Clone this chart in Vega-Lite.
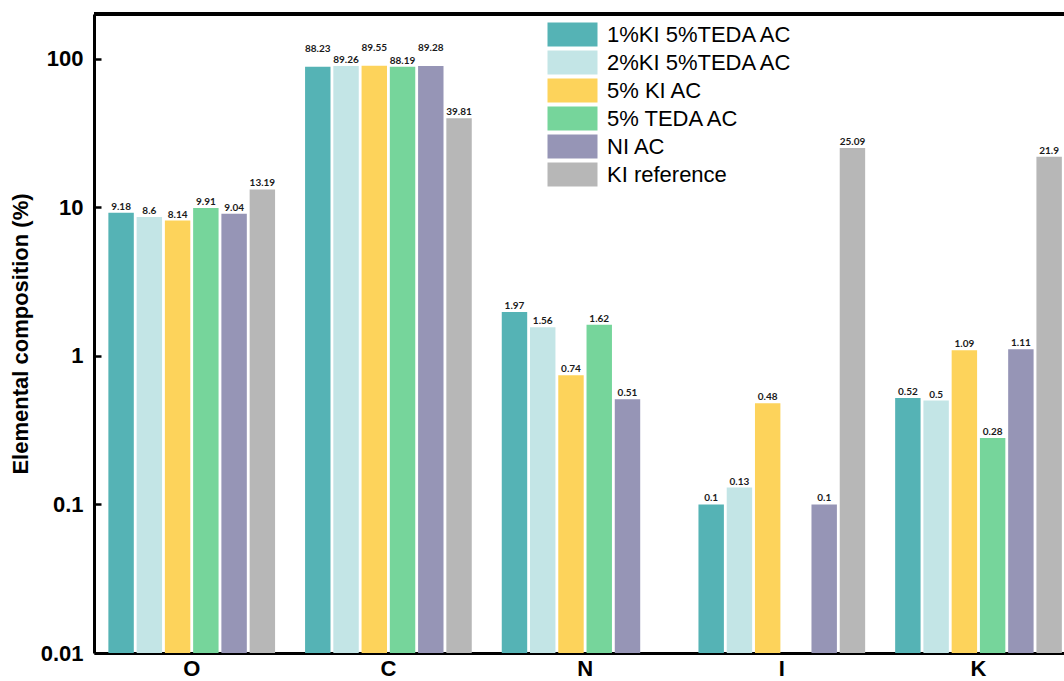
{
  "$schema": "https://vega.github.io/schema/vega-lite/v6.json",
  "autosize": {"type": "none"},
  "width": 970,
  "height": 639,
  "padding": {"left": 94, "top": 14, "right": 0, "bottom": 28},
  "background": "white",
  "config": {
    "view": {"stroke": null},
    "font": "Liberation Sans"
  },
  "data": {
    "values": [
      {"element": "O", "sample": "1%KI 5%TEDA AC", "value": 9.18},
      {"element": "O", "sample": "2%KI 5%TEDA AC", "value": 8.6},
      {"element": "O", "sample": "5% KI AC", "value": 8.14},
      {"element": "O", "sample": "5% TEDA AC", "value": 9.91},
      {"element": "O", "sample": "NI AC", "value": 9.04},
      {"element": "O", "sample": "KI reference", "value": 13.19},
      {"element": "C", "sample": "1%KI 5%TEDA AC", "value": 88.23},
      {"element": "C", "sample": "2%KI 5%TEDA AC", "value": 89.26},
      {"element": "C", "sample": "5% KI AC", "value": 89.55},
      {"element": "C", "sample": "5% TEDA AC", "value": 88.19},
      {"element": "C", "sample": "NI AC", "value": 89.28},
      {"element": "C", "sample": "KI reference", "value": 39.81},
      {"element": "N", "sample": "1%KI 5%TEDA AC", "value": 1.97},
      {"element": "N", "sample": "2%KI 5%TEDA AC", "value": 1.56},
      {"element": "N", "sample": "5% KI AC", "value": 0.74},
      {"element": "N", "sample": "5% TEDA AC", "value": 1.62},
      {"element": "N", "sample": "NI AC", "value": 0.51},
      {"element": "I", "sample": "1%KI 5%TEDA AC", "value": 0.1},
      {"element": "I", "sample": "2%KI 5%TEDA AC", "value": 0.13},
      {"element": "I", "sample": "5% KI AC", "value": 0.48},
      {"element": "I", "sample": "NI AC", "value": 0.1},
      {"element": "I", "sample": "KI reference", "value": 25.09},
      {"element": "K", "sample": "1%KI 5%TEDA AC", "value": 0.52},
      {"element": "K", "sample": "2%KI 5%TEDA AC", "value": 0.5},
      {"element": "K", "sample": "5% KI AC", "value": 1.09},
      {"element": "K", "sample": "5% TEDA AC", "value": 0.28},
      {"element": "K", "sample": "NI AC", "value": 1.11},
      {"element": "K", "sample": "KI reference", "value": 21.9}
    ]
  },
  "encoding": {
    "x": {
      "field": "element", "type": "nominal", "sort": ["O", "C", "N", "I", "K"],
      "scale": {"paddingInner": 0.1525, "paddingOuter": 0.042, "align": 0.87},
      "axis": {
        "title": null, "labelAngle": 0, "ticks": false,
        "domainWidth": 3, "domainColor": "black",
        "labelFont": "Liberation Sans", "labelFontWeight": "bold", "labelFontSize": 22,
        "labelColor": "black", "labelPadding": 5, "labelBaseline": "top"
      }
    },
    "xOffset": {
      "field": "sample", "type": "nominal",
      "sort": ["1%KI 5%TEDA AC", "2%KI 5%TEDA AC", "5% KI AC", "5% TEDA AC", "NI AC", "KI reference"],
      "scale": {"domain": ["1%KI 5%TEDA AC", "2%KI 5%TEDA AC", "5% KI AC", "5% TEDA AC", "NI AC", "KI reference"], "paddingInner": 0.1, "paddingOuter": 0}
    },
    "y": {
      "field": "value", "type": "quantitative", "stack": null,
      "scale": {"type": "log", "domain": [0.01, 200], "nice": false},
      "axis": {
        "title": "Elemental composition (%)",
        "values": [0.01, 0.1, 1, 10, 100], "format": "~g",
        "grid": false, "domainWidth": 3, "domainColor": "black",
        "tickSize": -7, "tickWidth": 2.5, "tickColor": "black",
        "labelFont": "Liberation Sans", "labelFontWeight": "bold", "labelFontSize": 22,
        "labelColor": "black", "labelPadding": 18,
        "titleFont": "Liberation Sans", "titleFontWeight": "bold", "titleFontSize": 22,
        "titleColor": "black", "titlePadding": 8
      }
    }
  },
  "layer": [
    {
      "mark": {"type": "bar"},
      "encoding": {
        "color": {
          "field": "sample", "type": "nominal",
          "scale": {
            "domain": ["1%KI 5%TEDA AC", "2%KI 5%TEDA AC", "5% KI AC", "5% TEDA AC", "NI AC", "KI reference"],
            "range": ["#55B3B5", "#C3E5E6", "#FDD35B", "#76D59B", "#9695B6", "#B7B7B7"]
          },
          "legend": {
            "title": null, "orient": "none", "legendX": 466, "legendY": 8,
            "padding": 0,
            "symbolType": "M-2,-0.96H2V0.96H-2Z", "symbolSize": 625,
            "symbolStrokeWidth": 0, "symbolOpacity": 1,
            "labelFont": "Liberation Sans", "labelFontSize": 22, "labelColor": "black",
            "labelOffset": 22, "rowPadding": 3, "labelLimit": 400
          }
        }
      }
    },
    {
      "transform": [{"filter": "!(datum.element == 'C' && (datum.sample == '1%KI 5%TEDA AC' || datum.sample == '5% KI AC' || datum.sample == 'NI AC'))"}],
      "mark": {"type": "text", "baseline": "alphabetic", "dy": -3, "font": "Lato", "fontWeight": "bold", "fontSize": 10, "color": "#1a1a1a"},
      "encoding": {"text": {"field": "value", "type": "quantitative", "format": "~g"}}
    },
    {
      "transform": [{"filter": "datum.element == 'C' && (datum.sample == '1%KI 5%TEDA AC' || datum.sample == '5% KI AC' || datum.sample == 'NI AC')"}],
      "mark": {"type": "text", "baseline": "alphabetic", "dy": -15, "font": "Lato", "fontWeight": "bold", "fontSize": 10, "color": "#1a1a1a"},
      "encoding": {"text": {"field": "value", "type": "quantitative", "format": "~g"}}
    },
    {
      "mark": {"type": "rule", "strokeWidth": 3, "color": "black"},
      "encoding": {"y": {"datum": 200}, "x": null, "xOffset": null}
    }
  ]
}
